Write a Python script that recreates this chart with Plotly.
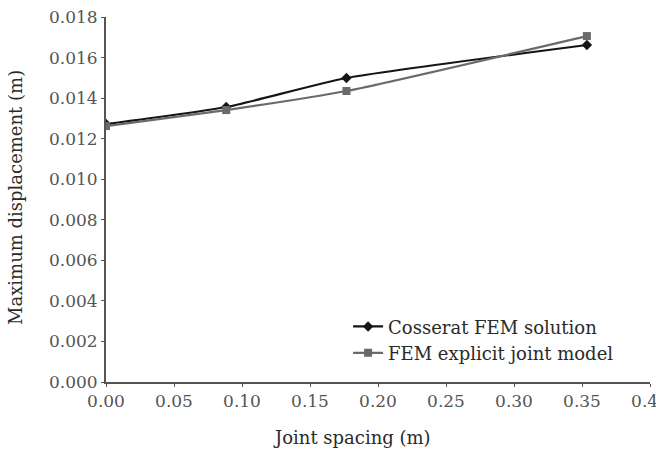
import plotly.graph_objects as go

joint_spacing = [0.0, 0.0884, 0.1768, 0.3536]
cosserat_fem = [0.01272, 0.01356, 0.01499, 0.01662]
fem_explicit = [0.01262, 0.01341, 0.01435, 0.01706]

x_ticks = [0.00, 0.05, 0.10, 0.15, 0.20, 0.25, 0.30, 0.35, 0.40]
x_tick_labels = ["0.00", "0.05", "0.10", "0.15", "0.20", "0.25", "0.30", "0.35", "0.40"]
y_ticks = [0.000, 0.002, 0.004, 0.006, 0.008, 0.010, 0.012, 0.014, 0.016, 0.018]
y_tick_labels = ["0.000", "0.002", "0.004", "0.006", "0.008", "0.010", "0.012", "0.014", "0.016", "0.018"]

font_family = "DejaVu Serif, Liberation Serif, serif"
tick_color = "#555555"
title_color = "#2a2a2a"

fig = go.Figure()
fig.add_trace(go.Scatter(
    x=joint_spacing, y=cosserat_fem, name="Cosserat FEM solution",
    mode="lines+markers", line=dict(color="#151515", width=2.2, shape="spline", smoothing=0.5),
    marker=dict(symbol="diamond", size=8, color="#151515"),
))
fig.add_trace(go.Scatter(
    x=joint_spacing, y=fem_explicit, name="FEM explicit joint model",
    mode="lines+markers", line=dict(color="#6a6a6a", width=2.2, shape="spline", smoothing=0.5),
    marker=dict(symbol="square", size=8, color="#6a6a6a"),
))

fig.update_layout(
    width=656, height=451,
    margin=dict(l=106, r=6, t=17, b=69),
    paper_bgcolor="white", plot_bgcolor="white",
    font=dict(family=font_family, size=17, color=tick_color),
    showlegend=True,
    legend=dict(x=0.445, y=0.202, xanchor="left", yanchor="top",
                bgcolor="rgba(0,0,0,0)", font=dict(size=18, color=title_color),
                itemwidth=30, tracegroupgap=0),
    xaxis=dict(
        range=[0, 0.40], tickvals=x_ticks, ticktext=x_tick_labels,
        showline=True, linecolor="#555555", linewidth=2, ticks="outside",
        ticklen=3, tickcolor="#555555", showgrid=False, zeroline=False,
        ticklabeloverflow="allow", automargin=False,
    ),
    yaxis=dict(
        range=[0, 0.018], tickvals=y_ticks, ticktext=y_tick_labels,
        showline=True, linecolor="#555555", linewidth=2, ticks="outside",
        ticklen=3, tickcolor="#555555", showgrid=False, zeroline=False,
        automargin=False,
    ),
    annotations=[
        dict(text="Joint spacing (m)", xref="paper", yref="paper",
             x=(352 - 106) / 544, y=-(437 - 382) / 365, xanchor="center", yanchor="middle",
             showarrow=False, font=dict(size=18, color=title_color)),
        dict(text="Maximum displacement (m)", xref="paper", yref="paper",
             x=-(106 - 15) / 544, y=(382 - 198) / 365, xanchor="center", yanchor="middle",
             textangle=-90, showarrow=False, font=dict(size=18, color=title_color)),
    ],
)

fig.write_html("out.html")
